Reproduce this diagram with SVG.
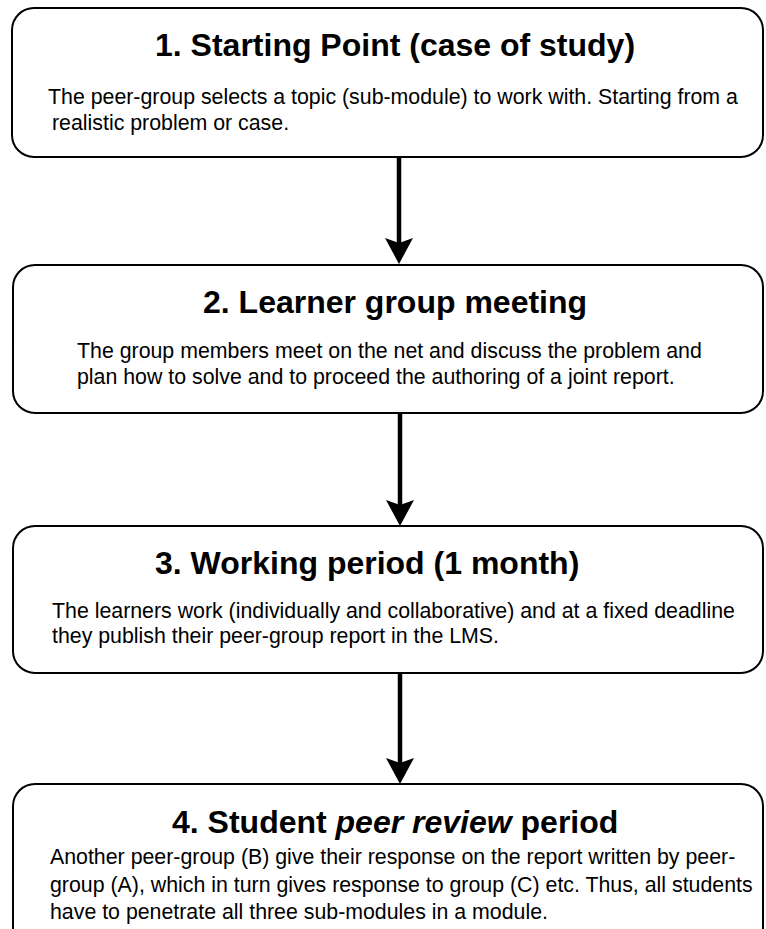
<svg xmlns="http://www.w3.org/2000/svg" width="766" height="929" viewBox="0 0 766 929">
  <style>
    .box { fill: #ffffff; stroke: #000000; stroke-width: 2; }
    .title { font-family: "Liberation Sans", Arial, sans-serif; font-size: 32px; font-weight: bold; fill: #000000; }
    .body { font-family: "Liberation Sans", Arial, sans-serif; font-size: 21.33px; fill: #000000; }
    .link { stroke: #000000; stroke-width: 4.5; fill: none; marker-end: url(#arrow); }
  </style>
  <defs>
    <marker id="arrow" markerUnits="userSpaceOnUse" viewBox="0 0 26 28" markerWidth="26" markerHeight="28" refX="5" refY="14" orient="auto">
      <path d="M0,0 L26,14 L0,28 L5,14 Z" fill="#000000"/>
    </marker>
  </defs>
  <rect width="766" height="929" fill="#ffffff"/>

  <g id="connectors">
    <line class="link" x1="399" y1="157" x2="399" y2="243"/>
    <line class="link" x1="400" y1="413" x2="400" y2="505"/>
    <line class="link" x1="400" y1="673" x2="400" y2="763"/>
  </g>

  <g id="step1">
    <rect class="box" x="12" y="8" width="751" height="149" rx="22" ry="22"/>
    <text class="title" x="155" y="56">1. Starting Point (case of study)</text>
    <text class="body" x="48" y="104">The peer-group selects a topic (sub-module) to work with. Starting from a</text>
    <text class="body" x="52" y="130">realistic problem or case.</text>
  </g>

  <g id="step2">
    <rect class="box" x="13" y="265" width="750" height="148" rx="22" ry="22"/>
    <text class="title" x="203" y="313">2. Learner group meeting</text>
    <text class="body" x="77" y="358">The group members meet on the net and discuss the problem and</text>
    <text class="body" x="77" y="384">plan how to solve and to proceed the authoring of a joint report.</text>
  </g>

  <g id="step3">
    <rect class="box" x="13" y="526" width="750" height="147" rx="22" ry="22"/>
    <text class="title" x="155" y="574">3. Working period (1 month)</text>
    <text class="body" x="52" y="618">The learners work (individually and collaborative) and at a fixed deadline</text>
    <text class="body" x="52" y="643">they publish their peer-group report in the LMS.</text>
  </g>

  <g id="step4">
    <rect class="box" x="13" y="784" width="750" height="170" rx="22" ry="22"/>
    <text class="title" x="172" y="833">4. Student <tspan font-style="italic">peer review</tspan> period</text>
    <text class="body" x="50" y="864">Another peer-group (B) give their response on the report written by peer-</text>
    <text class="body" x="50" y="892">group (A), which in turn gives response to group (C) etc. Thus, all students</text>
    <text class="body" x="50" y="919">have to penetrate all three sub-modules in a module.</text>
  </g>
</svg>
